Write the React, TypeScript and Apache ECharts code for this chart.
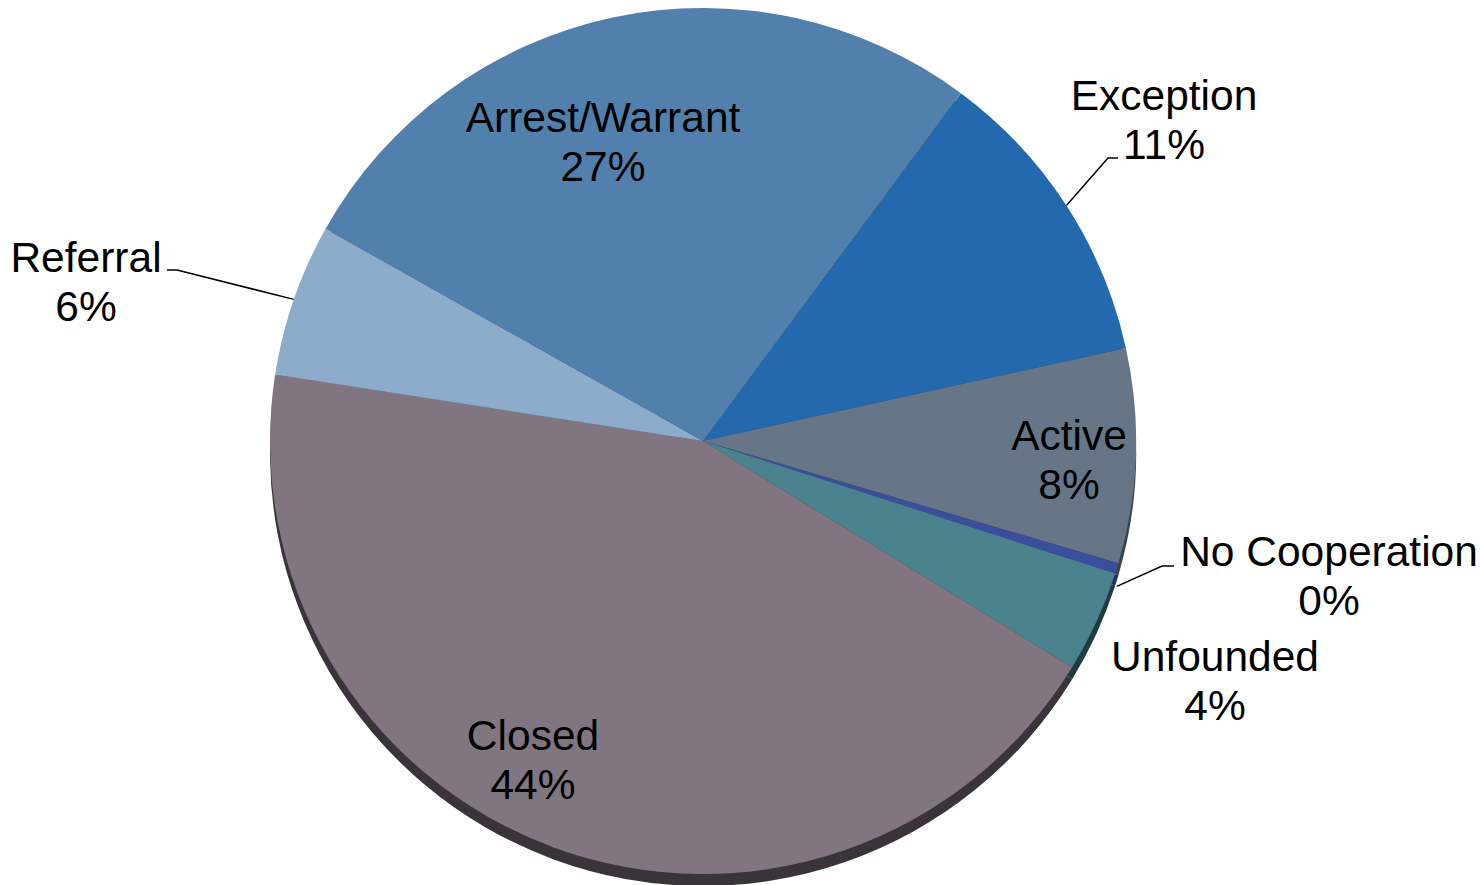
import React, { useEffect, useRef } from 'react';
import * as echarts from 'echarts';

// ---- data ----
const categories = ['Exception', 'Active', 'No Cooperation', 'Unfounded', 'Closed', 'Referral', 'Arrest/Warrant'];
const values = [11.4, 8.0, 0.4, 3.8, 43.7, 5.7, 27.0];
const colors = ['#2469AE', '#677687', '#3B4E9B', '#4A838D', '#807580', '#8DABCB', '#5180AC'];
const rimColors = ['#163F69', '#3A4350', '#232E5C', '#1F3C40', '#3A3339', '#55677A', '#304D67'];

// ---- geometry / style ----
const CX = 703;
const CY = 441;
const R = 433;
const START = 53.45; // degrees, ECharts convention
const RIM = 12;

// label block centres and leader line elbows (no line = no leader)
const labelPos: { x: number; y: number; anchorDy?: number; line?: number[][] }[] = [
  { x: 1164, y: 120, line: [[1108, 158], [1118, 158]] },
  { x: 1069, y: 460 },
  { x: 1329, y: 576, anchorDy: 18, line: [[1162, 566], [1174, 566]] },
  { x: 1215, y: 681 },
  { x: 533, y: 760 },
  { x: 86, y: 282, line: [[177, 270], [167, 270]] },
  { x: 603, y: 142 },
];

export default function App() {
  const ref = useRef<HTMLDivElement>(null);
  useEffect(() => {
    const chart = echarts.init(ref.current!, null, { renderer: 'svg' });
    const total = values.reduce((a, b) => a + b, 0);
    const startDeg = 90 - START;
    const mids: number[] = [];
    let cum = 0;
    values.forEach((v) => {
      mids.push(startDeg + (360 * (cum + v / 2)) / total);
      cum += v;
    });
    const data = categories.map((name, i) => ({
      name,
      value: values[i],
      itemStyle: { color: colors[i] },
      labelLine: { show: !!labelPos[i].line },
    }));
    const rimData = categories.map((name, i) => ({
      name,
      value: values[i],
      itemStyle: { color: rimColors[i] },
    }));
    chart.setOption({
      animation: false,
      backgroundColor: '#ffffff',
      series: [
        {
          type: 'pie',
          silent: true,
          center: [CX, CY + RIM],
          radius: R,
          startAngle: START,
          clockwise: true,
          label: { show: false },
          labelLine: { show: false },
          emphasis: { disabled: true },
          data: rimData,
          z: 1,
        },
        {
          type: 'pie',
          center: [CX, CY],
          radius: R,
          startAngle: START,
          clockwise: true,
          avoidLabelOverlap: false,
          emphasis: { disabled: true },
          z: 2,
          label: {
            show: true,
            position: 'outside',
            color: '#000000',
            fontFamily: '"Liberation Sans", Arial, sans-serif',
            fontSize: 42.5,
            lineHeight: 49,
            align: 'center',
            formatter: (p: any) => `${p.name}\n${Math.round(p.percent)}%`,
          },
          labelLine: {
            show: true,
            length: 20,
            length2: 10,
            lineStyle: { color: '#000000', width: 1.5 },
          },
          labelLayout: (p: any) => {
            const lp = labelPos[p.dataIndex];
            const out: any = { x: lp.x, y: lp.y, align: 'center', verticalAlign: 'middle' };
            if (lp.line) {
              const th = (mids[p.dataIndex] * Math.PI) / 180;
              const ax = CX + R * Math.sin(th);
              const ay = CY - R * Math.cos(th) + (lp.anchorDy || 0);
              out.labelLinePoints = [[ax, ay], ...lp.line];
            }
            return out;
          },
          data,
        },
      ],
    });
    return () => chart.dispose();
  }, []);
  return (
    <div
      ref={ref}
      style={{ position: 'fixed', left: 0, top: 0, width: 1481, height: 885 }}
    />
  );
}
